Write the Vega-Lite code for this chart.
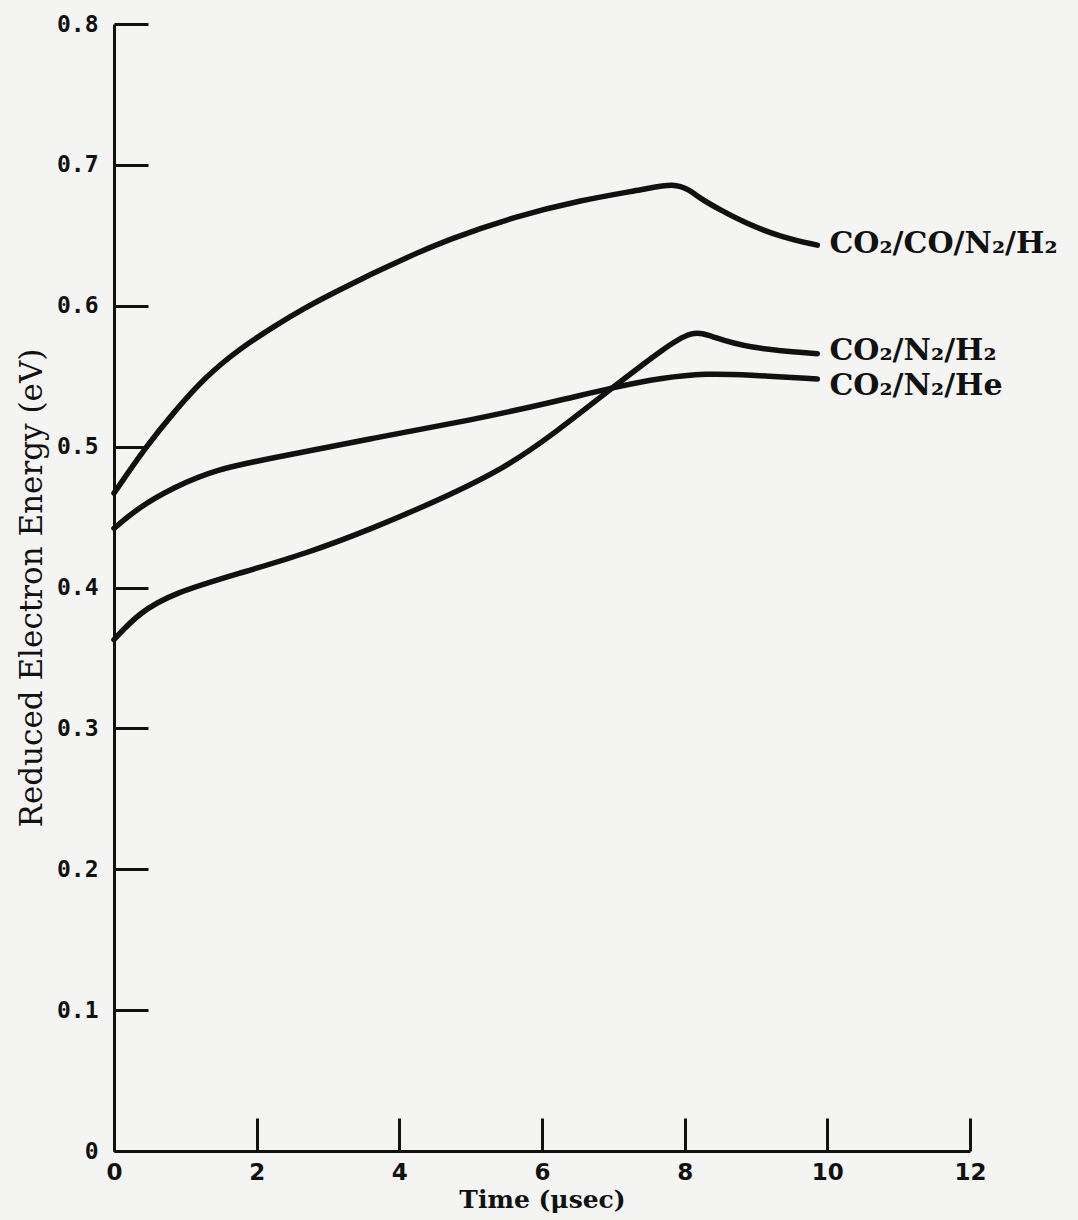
{
  "$schema": "https://vega.github.io/schema/vega-lite/v6.json",
  "width": 856,
  "height": 1127,
  "autosize": {"type": "none"},
  "padding": {"left": 114, "top": 24, "right": 108, "bottom": 69},
  "background": "#f4f4f2",
  "config": {"view": {"stroke": null}},
  "datasets": {
    "curves": [
      {"series": "CO2/CO/N2/H2", "t": 0, "energy": 0.467},
      {"series": "CO2/CO/N2/H2", "t": 0.45, "energy": 0.5},
      {"series": "CO2/CO/N2/H2", "t": 0.83, "energy": 0.524},
      {"series": "CO2/CO/N2/H2", "t": 1.29, "energy": 0.55},
      {"series": "CO2/CO/N2/H2", "t": 1.75, "energy": 0.569},
      {"series": "CO2/CO/N2/H2", "t": 2.23, "energy": 0.585},
      {"series": "CO2/CO/N2/H2", "t": 2.69, "energy": 0.599},
      {"series": "CO2/CO/N2/H2", "t": 3.15, "energy": 0.611},
      {"series": "CO2/CO/N2/H2", "t": 3.63, "energy": 0.623},
      {"series": "CO2/CO/N2/H2", "t": 4.09, "energy": 0.634},
      {"series": "CO2/CO/N2/H2", "t": 4.68, "energy": 0.647},
      {"series": "CO2/CO/N2/H2", "t": 5.6, "energy": 0.663},
      {"series": "CO2/CO/N2/H2", "t": 6.54, "energy": 0.675},
      {"series": "CO2/CO/N2/H2", "t": 7.48, "energy": 0.683},
      {"series": "CO2/CO/N2/H2", "t": 7.84, "energy": 0.687},
      {"series": "CO2/CO/N2/H2", "t": 8.08, "energy": 0.682},
      {"series": "CO2/CO/N2/H2", "t": 8.22, "energy": 0.676},
      {"series": "CO2/CO/N2/H2", "t": 8.5, "energy": 0.668},
      {"series": "CO2/CO/N2/H2", "t": 8.88, "energy": 0.658},
      {"series": "CO2/CO/N2/H2", "t": 9.34, "energy": 0.649},
      {"series": "CO2/CO/N2/H2", "t": 9.86, "energy": 0.643},
      {"series": "CO2/N2/He", "t": 0, "energy": 0.442},
      {"series": "CO2/N2/He", "t": 0.35, "energy": 0.457},
      {"series": "CO2/N2/He", "t": 0.83, "energy": 0.471},
      {"series": "CO2/N2/He", "t": 1.43, "energy": 0.484},
      {"series": "CO2/N2/He", "t": 2.23, "energy": 0.492},
      {"series": "CO2/N2/He", "t": 3.63, "energy": 0.506},
      {"series": "CO2/N2/He", "t": 5.03, "energy": 0.519},
      {"series": "CO2/N2/He", "t": 6.19, "energy": 0.532},
      {"series": "CO2/N2/He", "t": 6.99, "energy": 0.542},
      {"series": "CO2/N2/He", "t": 7.7, "energy": 0.549},
      {"series": "CO2/N2/He", "t": 8.3, "energy": 0.552},
      {"series": "CO2/N2/He", "t": 8.87, "energy": 0.551},
      {"series": "CO2/N2/He", "t": 9.86, "energy": 0.548},
      {"series": "CO2/N2/H2", "t": 0, "energy": 0.363},
      {"series": "CO2/N2/H2", "t": 0.35, "energy": 0.382},
      {"series": "CO2/N2/H2", "t": 0.83, "energy": 0.396},
      {"series": "CO2/N2/H2", "t": 1.75, "energy": 0.41},
      {"series": "CO2/N2/H2", "t": 2.69, "energy": 0.424},
      {"series": "CO2/N2/H2", "t": 3.63, "energy": 0.442},
      {"series": "CO2/N2/H2", "t": 4.55, "energy": 0.462},
      {"series": "CO2/N2/H2", "t": 5.49, "energy": 0.485},
      {"series": "CO2/N2/H2", "t": 6.19, "energy": 0.51},
      {"series": "CO2/N2/H2", "t": 6.99, "energy": 0.542},
      {"series": "CO2/N2/H2", "t": 7.69, "energy": 0.569},
      {"series": "CO2/N2/H2", "t": 8.11, "energy": 0.583},
      {"series": "CO2/N2/H2", "t": 8.39, "energy": 0.578},
      {"series": "CO2/N2/H2", "t": 8.87, "energy": 0.57},
      {"series": "CO2/N2/H2", "t": 9.86, "energy": 0.566}
    ],
    "labels": [
      {"label": "CO₂/CO/N₂/H₂", "t": 10.03, "energy": 0.6376},
      {"label": "CO₂/N₂/H₂", "t": 10.03, "energy": 0.5617},
      {"label": "CO₂/N₂/He", "t": 10.03, "energy": 0.537}
    ]
  },
  "encoding": {
    "x": {
      "field": "t", "type": "quantitative",
      "scale": {"domain": [0, 12], "nice": false, "zero": false},
      "axis": {
        "title": "Time (μsec)",
        "values": [0, 2, 4, 6, 8, 10, 12],
        "format": "d",
        "grid": false,
        "domainColor": "#111111", "domainWidth": 3,
        "tickColor": "#111111", "tickWidth": 3, "tickSize": -33,
        "labelPadding": 43,
        "labelFont": "DejaVu Sans", "labelFontSize": 23, "labelFontWeight": "bold",
        "labelColor": "#111111", "labelFlush": false, "labelOverlap": false,
        "titleFont": "DejaVu Serif", "titleFontSize": 25, "titleFontWeight": "bold",
        "titleColor": "#111111", "titlePadding": 3
      }
    },
    "y": {
      "field": "energy", "type": "quantitative",
      "scale": {"domain": [0, 0.8], "nice": false},
      "axis": {
        "title": "Reduced Electron Energy (eV)",
        "values": [0, 0.1, 0.2, 0.3, 0.4, 0.5, 0.6, 0.7, 0.8],
        "labelExpr": "datum.value == 0 ? '0' : format(datum.value, '.1f')",
        "grid": false,
        "domainColor": "#111111", "domainWidth": 3,
        "tickColor": "#111111", "tickWidth": 3, "tickSize": -34,
        "labelPadding": 50,
        "labelFont": "DejaVu Sans Mono", "labelFontSize": 23, "labelFontWeight": "bold",
        "labelColor": "#111111", "labelFlush": false, "labelOverlap": false,
        "titleFont": "DejaVu Serif", "titleFontSize": 31, "titleFontWeight": "normal",
        "titleColor": "#111111", "titlePadding": 8
      }
    }
  },
  "layer": [
    {
      "data": {"name": "curves"},
      "mark": {"type": "line", "interpolate": "basis", "strokeWidth": 5.5, "color": "#111111", "strokeCap": "round"},
      "encoding": {
        "detail": {"field": "series", "type": "nominal"}
      }
    },
    {
      "data": {"name": "labels"},
      "mark": {"type": "text", "align": "left", "baseline": "alphabetic", "font": "DejaVu Serif", "fontSize": 30, "fontWeight": "bold", "color": "#111111"},
      "encoding": {
        "text": {"field": "label"}
      }
    }
  ]
}
